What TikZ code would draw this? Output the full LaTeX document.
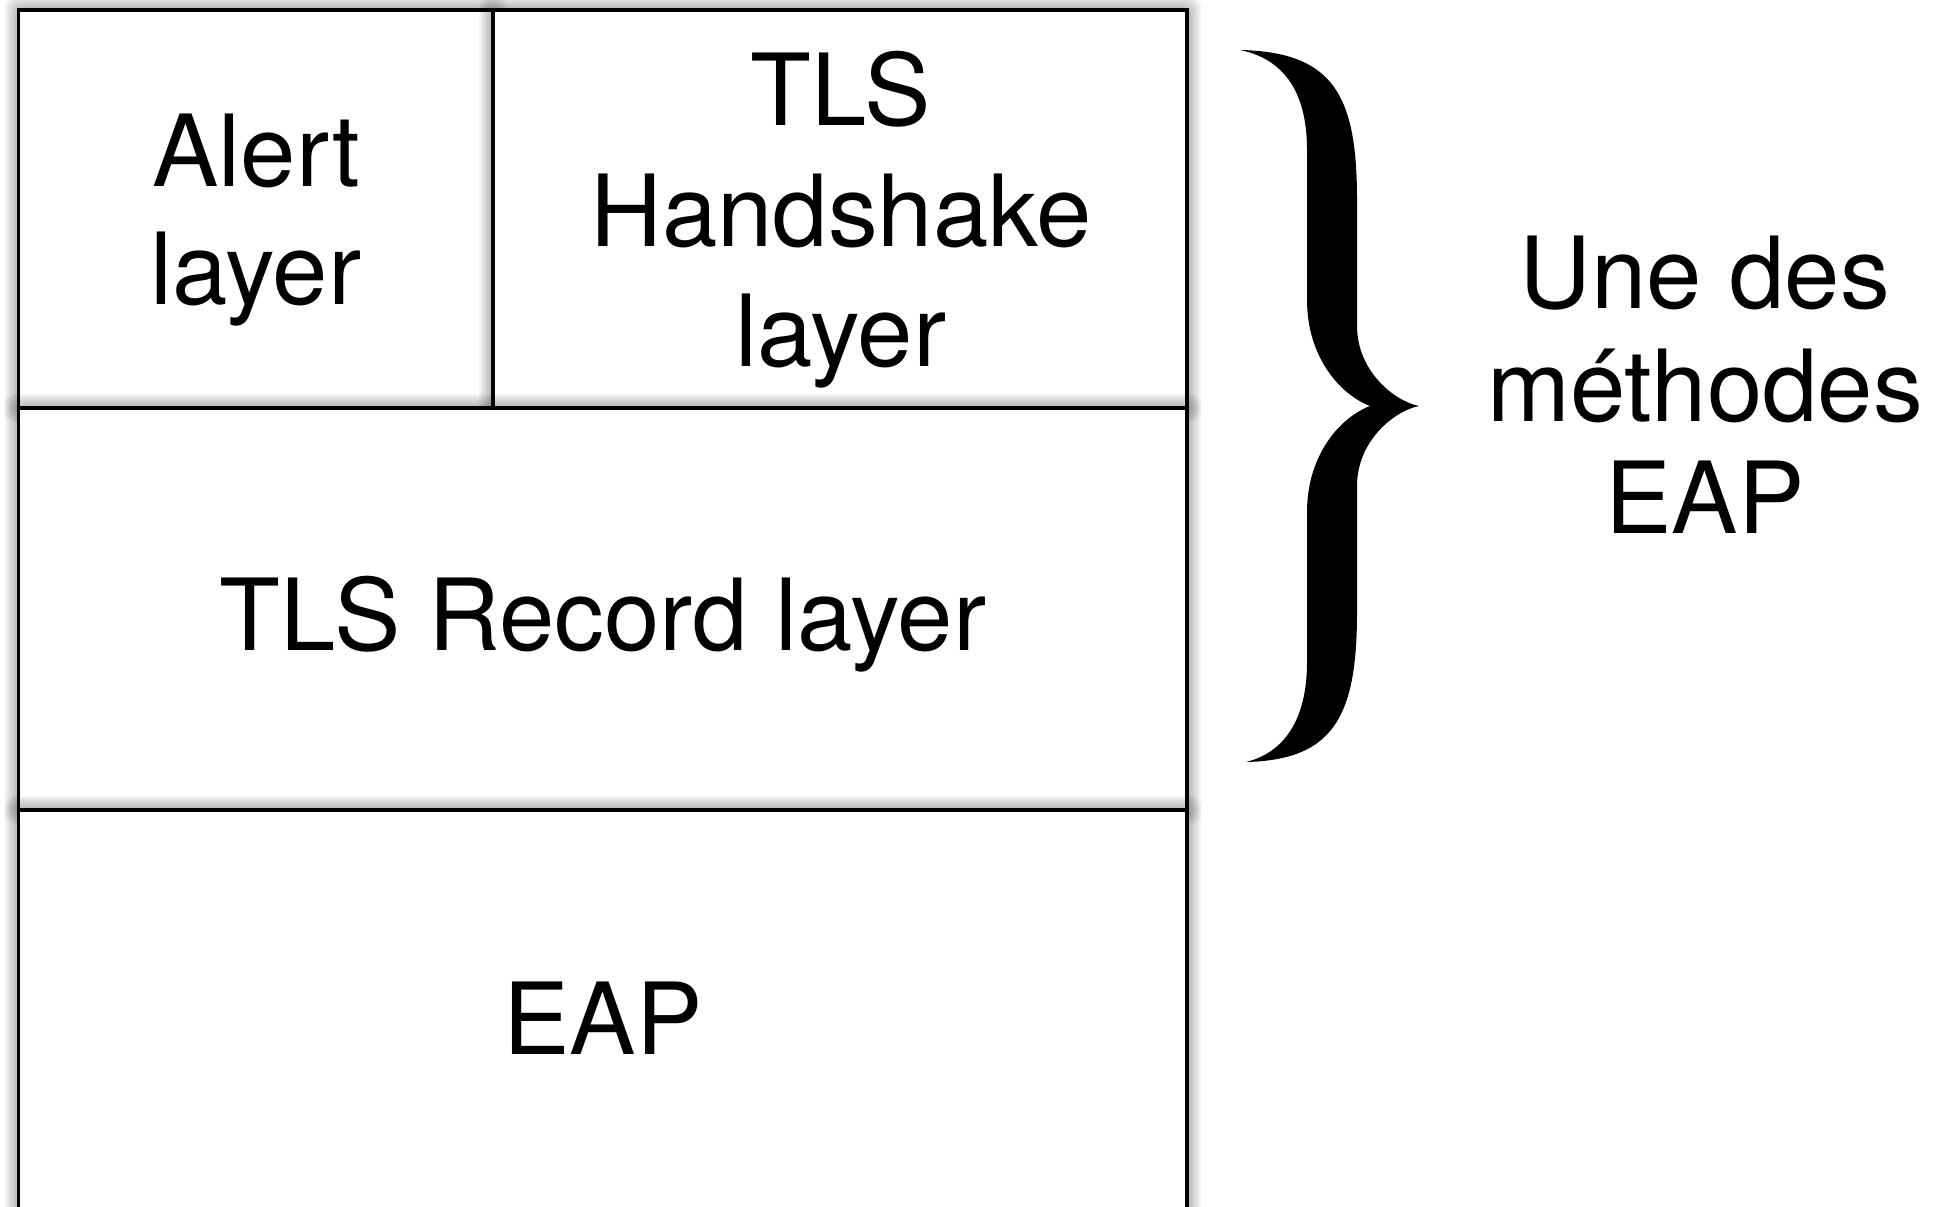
\documentclass[tikz,border=0pt]{standalone}
\usepackage{fontspec}
\setmainfont{TeX Gyre Heros}

\tikzset{
  layerbox/.style={draw=black, line width=0.9pt, fill=white},
  layertext/.style={font=\fontsize{28.3}{33.4}\selectfont, align=center, inner sep=0pt},
}

% soft grey halo around a cell: #1,#2 = upper-left corner, #3,#4 = lower-right corner (px)
\newcommand\cellhalo[4]{%
  \foreach \k in {2,4,...,14}{%
    \fill[black, opacity=0.045, rounded corners=3pt] (#1-\k,#2-\k) rectangle (#3+\k,#4+\k);
  }%
}

\begin{document}
\begin{tikzpicture}[x=0.01cm, y=-0.01cm]
  \useasboundingbox (0,0) rectangle (1949,1207);
  \fill[white] (0,0) rectangle (1949,1207);

  % protocol stack cells
  \cellhalo{18.6}{10}{493}{408}
  \path[layerbox] (18.6,10) rectangle (493,408);
  \cellhalo{493}{10}{1187}{408}
  \path[layerbox] (493,10) rectangle (1187,408);
  \cellhalo{18.6}{408}{1187}{810}
  \path[layerbox] (18.6,408) rectangle (1187,810);
  \cellhalo{18.6}{810}{1187}{1228}
  \path[layerbox] (18.6,810) rectangle (1187,1228);

  \node[layertext] (alert) at (256,220) {Alert\\layer};
  \node[layertext, font=\fontsize{28.3}{34.3}\selectfont] (handshake) at (841,220) {TLS\\Handshake\\layer};
  \node[layertext] (record) at (603,624) {TLS Record layer};
  \node[layertext] (eap) at (603,1018) {EAP};

  % curly brace spanning the upper layers
  \begin{scope}[shift={(1419,406)}, yscale=-1]
    \fill[black] (-49,0) .. controls (-80,12) and (-112,50) .. (-112,106)
      -- (-112,256) .. controls (-112,320) and (-140,348) .. (-179,356)
      .. controls (-85,354) and (-62,310) .. (-62,206)
      -- (-62,80) .. controls (-62,35) and (-25,5) .. (0,0)
      .. controls (-25,-5) and (-62,-35) .. (-62,-80)
      -- (-62,-206) .. controls (-62,-310) and (-85,-354) .. (-173,-356)
      .. controls (-140,-348) and (-112,-320) .. (-112,-256)
      -- (-112,-106) .. controls (-112,-50) and (-80,-12) .. (-49,0) -- cycle;
  \end{scope}

  \node[layertext, font=\fontsize{28.3}{32}\selectfont] (methods) at (1705,385) {Une des\\méthodes\\EAP};
\end{tikzpicture}
\end{document}
